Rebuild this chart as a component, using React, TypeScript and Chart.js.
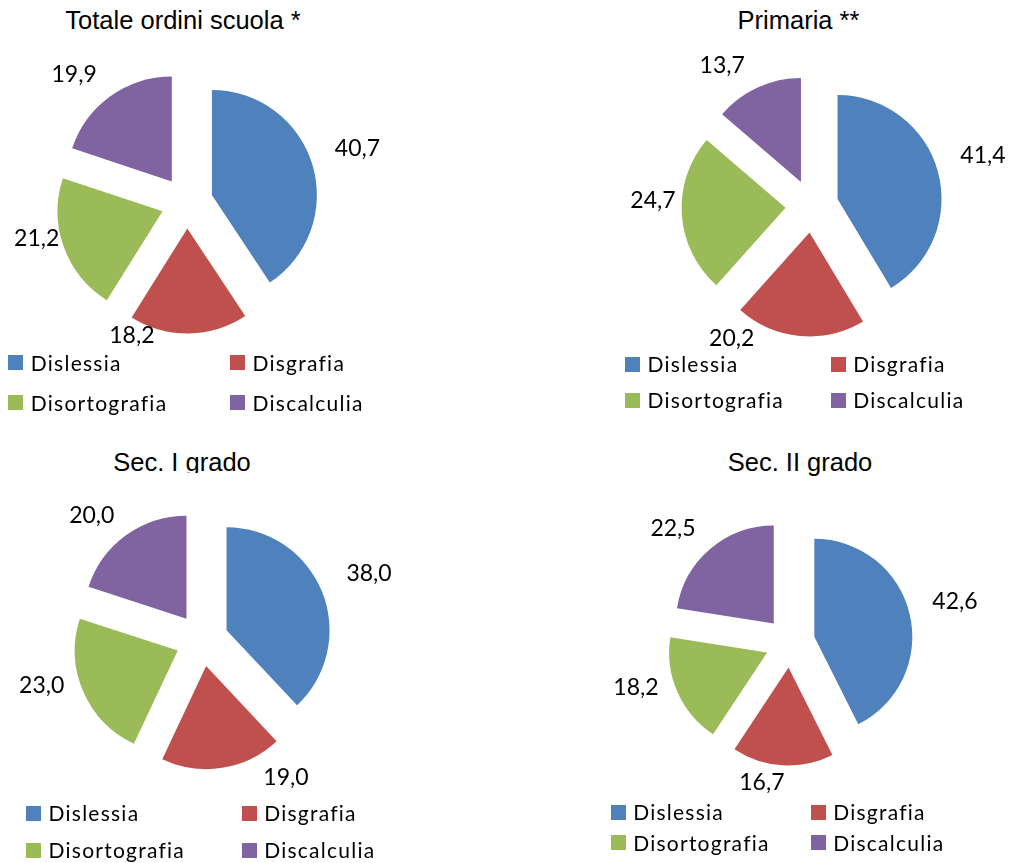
import React, { useEffect, useRef } from 'react';
import { Chart, registerables } from 'chart.js';

Chart.register(...registerables);

// ---------- data ----------
const categories = ['Dislessia', 'Disgrafia', 'Disortografia', 'Discalculia'];
const titles = ['Totale ordini scuola *', 'Primaria **', 'Sec. I grado', 'Sec. II grado'];
const totaleValues = [40.7, 18.2, 21.2, 19.9];
const primariaValues = [41.4, 20.2, 24.7, 13.7];
const secPrimoValues = [38.0, 19.0, 23.0, 20.0];
const secSecondoValues = [42.6, 16.7, 18.2, 22.5];

// ---------- style ----------
const colors = ['#4F81BD', '#C0504D', '#9BBB59', '#8064A2'];
const TITLE_FONT = '"Liberation Sans", Arial, sans-serif';
const TITLE_SIZE = 25.5;
const LABEL_FONT = 'Lato, "Open Sans", sans-serif';
const LABEL_SIZE = 23;
const LEGEND_SIZE = 21;

type Panel = {
  values: number[];
  title: string;
  box: { left: number; top: number; width: number; height: number };
  center: { x: number; y: number };
  radius: number;
  explode: number;
  labelShift: number[]; // degrees relative to slice mid-angle
  labelGap: number[]; // px beyond outer radius
  titlePos: { x: number; baseline: number; clip?: number };
  legend: { cols: number[]; rows: number[] };
};

const panels: Panel[] = [
  {
    values: totaleValues,
    title: titles[0],
    box: { left: 0, top: 35, width: 506, height: 318 },
    center: { x: 187, y: 202.5 },
    radius: 105,
    explode: 26,
    labelShift: [-1, 23.3, 6.5, -5.5],
    labelGap: [74, 38.6, 49.4, 66],
    titlePos: { x: 183, baseline: 30 },
    legend: { cols: [8.3, 230], rows: [362.5, 402.5] },
  },
  {
    values: primariaValues,
    title: titles[1],
    box: { left: 506, top: 35, width: 507, height: 318 },
    center: { x: 812, y: 206 },
    radius: 104,
    explode: 26.5,
    labelShift: [-1.1, 25.9, 6.2, -7.8],
    labelGap: [74.4, 50.5, 55.2, 63.3],
    titlePos: { x: 798.5, baseline: 30 },
    legend: { cols: [625, 830.7], rows: [364, 400] },
  },
  {
    values: secPrimoValues,
    title: titles[2],
    box: { left: 0, top: 478, width: 506, height: 322 },
    center: { x: 202, y: 640 },
    radius: 103,
    explode: 26.4,
    labelShift: [-0.3, -22.5, 7.7, -5.4],
    labelGap: [77, 57.7, 63.5, 63.7],
    titlePos: { x: 182, baseline: 471.7, clip: 473.3 },
    legend: { cols: [26, 241.7], rows: [813, 850] },
  },
  {
    values: secSecondoValues,
    title: titles[3],
    box: { left: 506, top: 478, width: 507, height: 322 },
    center: { x: 790, y: 642.5 },
    radius: 98,
    explode: 25,
    labelShift: [-0.9, 8, 7.8, -5.1],
    labelGap: [72.2, 44, 62.2, 65.7],
    titlePos: { x: 800, baseline: 471.7 },
    legend: { cols: [610.7, 810.7], rows: [812, 842.5] },
  },
];

const fmt = (v: number) => v.toFixed(1).replace('.', ',');

function explodePlugin(distance: number) {
  return {
    id: 'explodeSlices',
    afterDatasetUpdate(_chart: any, args: any) {
      for (const arc of args.meta.data) {
        if (arc._explodeWrapped) continue;
        const base = Object.getPrototypeOf(arc).draw;
        arc.draw = function (ctx: CanvasRenderingContext2D, area: any) {
          const mid = (this.startAngle + this.endAngle) / 2;
          ctx.save();
          ctx.translate(Math.cos(mid) * distance, Math.sin(mid) * distance);
          base.call(this, ctx, area);
          ctx.restore();
        };
        arc._explodeWrapped = true;
      }
    },
  };
}

function valueLabelsPlugin(panel: Panel) {
  return {
    id: 'valueLabels',
    afterDatasetsDraw(chart: any) {
      const meta = chart.getDatasetMeta(0);
      const data = chart.data.datasets[0].data as number[];
      const ctx: CanvasRenderingContext2D = chart.ctx;
      ctx.save();
      ctx.font = `${LABEL_SIZE}px ${LABEL_FONT}`;
      ctx.fillStyle = '#000';
      ctx.textAlign = 'center';
      ctx.textBaseline = 'alphabetic';
      meta.data.forEach((arc: any, i: number) => {
        const a = (arc.startAngle + arc.endAngle) / 2 + (panel.labelShift[i] * Math.PI) / 180;
        const d = arc.outerRadius + panel.labelGap[i];
        const lx = arc.x + Math.cos(a) * d;
        const ly = arc.y + Math.sin(a) * d;
        ctx.fillText(fmt(data[i]), lx, ly + (LABEL_SIZE * 0.717) / 2);
      });
      ctx.restore();
    },
  };
}

function paddingFor(panel: Panel) {
  const { box, center } = panel;
  const hl = center.x - box.left;
  const hr = box.left + box.width - center.x;
  const ht = center.y - box.top;
  const hb = box.top + box.height - center.y;
  const hx = Math.min(hl, hr);
  const hy = Math.min(ht, hb);
  return { left: hl - hx, right: hr - hx, top: ht - hy, bottom: hb - hy };
}

export default function App() {
  const refs = [useRef<HTMLCanvasElement>(null), useRef<HTMLCanvasElement>(null), useRef<HTMLCanvasElement>(null), useRef<HTMLCanvasElement>(null)];

  useEffect(() => {
    const charts = panels.map((panel, idx) => {
      const canvas = refs[idx].current!;
      return new Chart(canvas, {
        type: 'pie',
        data: {
          labels: categories,
          datasets: [
            {
              data: panel.values,
              backgroundColor: colors,
              borderWidth: 0,
              clip: false,
              radius: panel.radius,
            } as any,
          ],
        },
        options: {
          responsive: false,
          maintainAspectRatio: false,
          animation: false,
          events: [],
          radius: panel.radius,
          layout: { padding: paddingFor(panel) },
          plugins: {
            legend: { display: false },
            tooltip: { enabled: false },
            title: { display: false },
          },
        } as any,
        plugins: [explodePlugin(panel.explode), valueLabelsPlugin(panel)],
      });
    });
    return () => charts.forEach((c) => c.destroy());
  }, []);

  return (
    <div
      style={{
        position: 'absolute',
        left: 0,
        top: 0,
        width: 1013,
        height: 863,
        background: '#fff',
        overflow: 'hidden',
      }}
    >
      {panels.map((panel, idx) => {
        const titleTop = panel.titlePos.baseline - 21.6;
        return (
          <React.Fragment key={idx}>
            <div
              style={{
                position: 'absolute',
                left: panel.titlePos.x,
                top: titleTop,
                transform: 'translateX(-50%)',
                whiteSpace: 'nowrap',
                fontFamily: TITLE_FONT,
                fontSize: TITLE_SIZE,
                lineHeight: `${TITLE_SIZE}px`,
                color: '#000',
                height: panel.titlePos.clip ? panel.titlePos.clip - titleTop : undefined,
                overflow: 'hidden',
              }}
            >
              {panel.title}
            </div>
            <canvas
              ref={refs[idx]}
              width={panel.box.width}
              height={panel.box.height}
              style={{
                position: 'absolute',
                left: panel.box.left,
                top: panel.box.top,
                width: panel.box.width,
                height: panel.box.height,
              }}
            />
            {categories.map((cat, i) => {
              const x = panel.legend.cols[i % 2];
              const y = panel.legend.rows[Math.floor(i / 2)];
              return (
                <div
                  key={cat}
                  style={{
                    position: 'absolute',
                    left: x,
                    top: y - 15,
                    height: 30,
                    display: 'flex',
                    alignItems: 'center',
                    whiteSpace: 'nowrap',
                  }}
                >
                  <span
                    style={{
                      display: 'inline-block',
                      width: 15,
                      height: 15,
                      background: colors[i],
                      marginRight: 7.5,
                    }}
                  />
                  <span
                    style={{
                      fontFamily: LABEL_FONT,
                      fontSize: LEGEND_SIZE,
                      letterSpacing: '1.25px',
                      lineHeight: 1.2,
                      color: '#000',
                    }}
                  >
                    {cat}
                  </span>
                </div>
              );
            })}
          </React.Fragment>
        );
      })}
    </div>
  );
}
